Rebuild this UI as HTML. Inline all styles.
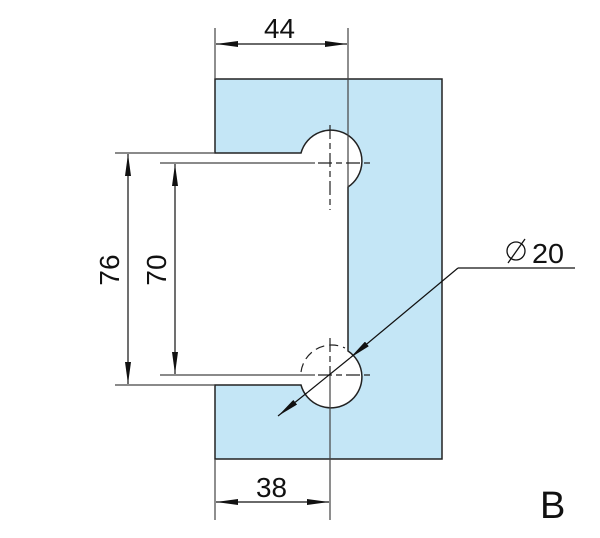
<!DOCTYPE html>
<html><head><style>body{margin:0;background:#fff}svg{display:block}</style></head><body>
<svg width="600" height="538" viewBox="0 0 600 538" xmlns="http://www.w3.org/2000/svg" font-family="Liberation Sans, sans-serif">
<defs>
<marker id="a" viewBox="0 0 22 6" refX="22" refY="3" markerWidth="22" markerHeight="6" markerUnits="userSpaceOnUse" orient="auto-start-reverse"><path d="M0,0 L22,3 L0,6 z" fill="#111"/></marker>
</defs>
<path d="M215,79 H442 V459 H215 V385 H301 A31,31 0 1 0 348,351 V187 A31,31 0 1 0 301,153 H215 Z" fill="#c4e6f6" stroke="#222" stroke-width="1.5"/>
<g stroke="#444" stroke-width="1.2" fill="none">
<line x1="215" y1="28" x2="215" y2="79"/>
<line x1="348" y1="28" x2="348" y2="187"/>
<line x1="215" y1="459" x2="215" y2="520"/>
<line x1="330" y1="375" x2="330" y2="520"/>
<line x1="115" y1="153" x2="215" y2="153"/>
<line x1="115" y1="385" x2="215" y2="385"/>
<line x1="160" y1="163" x2="315" y2="163"/>
<line x1="160" y1="375" x2="315" y2="375"/>
</g>
<g stroke="#222" stroke-width="1.2" stroke-dasharray="14,4,6,4" fill="none">
<line x1="330" y1="125" x2="330" y2="210"/>
<line x1="318" y1="163" x2="370" y2="163"/>
<line x1="330" y1="338" x2="330" y2="375"/>
<line x1="318" y1="375" x2="370" y2="375"/>
</g>
<path d="M301,372 A31,31 0 0 1 345,348" stroke="#222" stroke-width="1.2" stroke-dasharray="9,5" fill="none"/>
<g stroke="#111" stroke-width="1.2" fill="none">
<line x1="216" y1="44" x2="347" y2="44" marker-start="url(#a)" marker-end="url(#a)"/>
<line x1="216" y1="502" x2="329" y2="502" marker-start="url(#a)" marker-end="url(#a)"/>
<line x1="128" y1="154" x2="128" y2="384" marker-start="url(#a)" marker-end="url(#a)"/>
<line x1="175" y1="164" x2="175" y2="374" marker-start="url(#a)" marker-end="url(#a)"/>
<line x1="278" y1="416" x2="308" y2="392" marker-start="url(#a)"/>
<line x1="308" y1="392" x2="350" y2="358"/>
<line x1="350" y1="358" x2="458" y2="268" marker-start="url(#a)"/>
<line x1="458" y1="268" x2="575" y2="268"/>
</g>
<g fill="#111" font-size="28">
<text x="264" y="38" textLength="31" lengthAdjust="spacingAndGlyphs">44</text>
<text x="256" y="497" textLength="31" lengthAdjust="spacingAndGlyphs">38</text>
<text x="119" y="270" transform="rotate(-90 119 270)" text-anchor="middle">76</text>
<text x="166" y="270" transform="rotate(-90 166 270)" text-anchor="middle">70</text>
<text x="532" y="263" textLength="32" lengthAdjust="spacingAndGlyphs">20</text>
<text x="540" y="518" font-size="38">B</text>
</g>
<circle cx="516" cy="251" r="9" fill="none" stroke="#111" stroke-width="1.3"/>
<line x1="508" y1="263" x2="525" y2="239" stroke="#111" stroke-width="1.3"/>
</svg>
</body></html>
